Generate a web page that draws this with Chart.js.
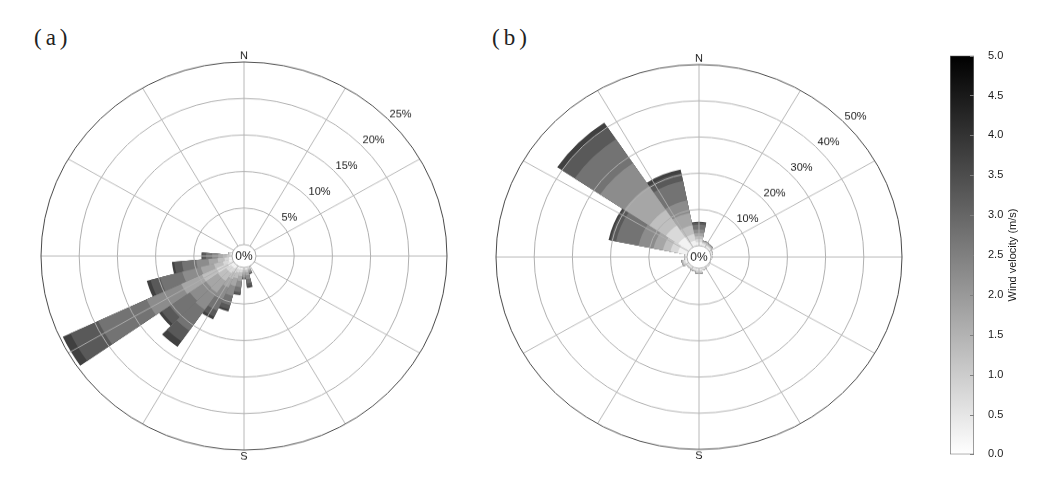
<!DOCTYPE html>
<html><head><meta charset="utf-8">
<script src="https://cdn.jsdelivr.net/npm/chart.js@4.4.1/dist/chart.umd.min.js"></script>
<style>
html,body{margin:0;padding:0;background:#fff;width:1039px;height:481px;overflow:hidden;position:relative;font-family:"Liberation Sans",Arial,sans-serif;}
.rose{position:absolute;width:440px;height:440px;transform-origin:50% 50%;}
#wa{left:24px;top:36px;transform:scaleY(0.956);}
#wb{left:479px;top:37px;transform:scaleY(0.948);}
.panel{position:absolute;font-family:"Liberation Serif","DejaVu Serif",serif;font-size:23px;line-height:1;color:#222;letter-spacing:4px;}
#cbar{position:absolute;left:950px;top:43px;width:86px;height:424px;}
</style></head>
<body>
<div class="panel" style="left:34px;top:26px;">(a)</div>
<div class="panel" style="left:492px;top:26px;">(b)</div>
<div id="wa" class="rose"><canvas id="ca"></canvas></div>
<div id="wb" class="rose"><canvas id="cb"></canvas></div>
<div id="cbar"><canvas id="cc"></canvas></div>
<script>
// ---------- data ----------
// wind-speed classes (m/s) and their mid values
const speedBins = ['0-0.5','0.5-1.0','1.0-1.5','1.5-2.0','2.0-2.5','2.5-3.0','3.0-3.5','3.5-4.0'];
const binMid = [0.25, 0.75, 1.25, 1.75, 2.25, 2.75, 3.25, 3.75];

// (a): 36 directions, 10 degrees apart (frequency %, per speed class)
const dirsA = Array.from({length: 36}, (_, i) => String(i * 10));
const aBin1 = [0,0,0,0,0,0,0,0,0,0,0,0,0,0,0,0, 0.1,0.2,0.2,0.3,0.3,0.4,0.5,0.5,0.8,0.5,0.4,0.3,0.2, 0,0,0,0,0,0,0];
const aBin2 = [0,0,0,0,0,0,0,0,0,0,0,0,0,0,0,0, 0.1,0.2,0.2,0.4,0.5,0.6,0.8,0.8,1.6,0.8,0.6,0.4,0.2, 0,0,0,0,0,0,0];
const aBin3 = [0,0,0,0,0,0,0,0,0,0,0,0,0,0,0,0, 0.2,0.3,0.3,0.5,0.8,0.9,1.3,1.3,2.1,1.2,0.9,0.5,0.1, 0,0,0,0,0,0,0];
const aBin4 = [0,0,0,0,0,0,0,0,0,0,0,0,0,0,0,0, 0.2,0.4,0.3,0.7,1.1,1.3,2.0,1.9,3.0,1.8,1.2,0.6,0, 0,0,0,0,0,0,0];
const aBin5 = [0,0,0,0,0,0,0,0,0,0,0,0,0,0,0,0, 0.2,0.5,0.3,0.8,1.4,1.7,2.8,2.6,5.0,2.5,1.6,0.8,0, 0,0,0,0,0,0,0];
const aBin6 = [0,0,0,0,0,0,0,0,0,0,0,0,0,0,0,0, 0.1,0.6,0.2,0.7,1.3,1.8,3.5,3.2,7.0,3.0,1.9,0.8,0, 0,0,0,0,0,0,0];
const aBin7 = [0,0,0,0,0,0,0,0,0,0,0,0,0,0,0,0, 0.1,0.4,0.1,0.3,0.6,0.9,1.8,1.3,4.0,1.3,1.0,0.5,0, 0,0,0,0,0,0,0];
const aBin8 = [0,0,0,0,0,0,0,0,0,0,0,0,0,0,0,0, 0,0.2,0,0.1,0.3,0.4,0.9,0.4,1.1,0.5,0.3,0.1,0, 0,0,0,0,0,0,0];
const ringsA = [0, 5, 10, 15, 20, 25];

// (b): 16 directions
const dirsB = ['N','NNE','NE','ENE','E','ESE','SE','SSE','S','SSW','SW','WSW','W','WNW','NW','NNW'];
const bBin1 = [1.0,0.5,0.4,0.3,0.2,0.1,0.2,0.3,0.5,0.4,0.3,0.6,0.4,2.5,3.4,1.5];
const bBin2 = [0.8,0.4,0.3,0.2,0.1,0,0.1,0.2,0.5,0.3,0.3,0.5,0.2,2.0,3.9,1.8];
const bBin3 = [0.8,0.3,0.3,0.1,0,0,0,0.1,0.3,0.2,0.2,0.3,0.1,2.0,5.2,2.5];
const bBin4 = [0.9,0.2,0.2,0,0,0,0,0,0.2,0.1,0,0.2,0,2.5,7.9,3.5];
const bBin5 = [1.0,0.1,0.1,0,0,0,0,0,0,0,0,0,0,4.0,7.6,3.5];
const bBin6 = [1.3,0,0,0,0,0,0,0,0,0,0,0,0,6.0,8.0,5.5];
const bBin7 = [0.6,0,0,0,0,0,0,0,0,0,0,0,0,1.5,4.0,2.2];
const bBin8 = [0.2,0,0,0,0,0,0,0,0,0,0,0,0,0.5,1.5,1.0];
const ringsB = [0, 10, 20, 30, 40, 50];

// colour bar
const cbarTicks = [0,0.5,1.0,1.5,2.0,2.5,3.0,3.5,4.0,4.5,5.0];
const cbarMax = 5;

// ---------- helpers ----------
const gray = v => { const g = Math.round(255 * (1 - v / cbarMax)); return `rgb(${g},${g},${g})`; };
function cumulative(series) {
  let run = series[0].map(() => 0);
  return series.map(s => (run = run.map((r, i) => +(r + s[i]).toFixed(3))));
}
const HOLE_PX = 12, AREA_PX = 203;

const rosePlugin = {
  id: 'rose',
  afterDatasetsDraw(chart) {
    const s = chart.scales.r, ctx = chart.ctx;
    const r0 = s.getDistanceFromCenterForValue(0);
    const rM = s.getDistanceFromCenterForValue(s.max);
    ctx.save();
    ctx.fillStyle = '#fff';
    ctx.beginPath(); ctx.arc(s.xCenter, s.yCenter, r0, 0, Math.PI * 2); ctx.fill();
    ctx.strokeStyle = '#b0b0b0'; ctx.lineWidth = 0.9;
    for (let a = 0; a < 360; a += 30) {
      const t = a * Math.PI / 180;
      ctx.beginPath();
      ctx.moveTo(s.xCenter + r0 * Math.sin(t), s.yCenter - r0 * Math.cos(t));
      ctx.lineTo(s.xCenter + rM * Math.sin(t), s.yCenter - rM * Math.cos(t));
      ctx.stroke();
    }
    ctx.restore();
  },
  afterDraw(chart) {
    const s = chart.scales.r, ctx = chart.ctx;
    const rings = chart.options.plugins.rose.rings;
    ctx.save();
    ctx.fillStyle = '#1a1a1a';
    ctx.font = '11px "Liberation Sans", Arial, sans-serif';
    ctx.textAlign = 'left'; ctx.textBaseline = 'bottom';
    const t = Math.PI / 4;
    rings.forEach(v => {
      if (v === 0) return;
      const r = s.getDistanceFromCenterForValue(v);
      ctx.fillText(v + '%', s.xCenter + r * Math.sin(t) + 2, s.yCenter - r * Math.cos(t) + 1);
    });
    const rM = s.getDistanceFromCenterForValue(s.max);
    ctx.textAlign = 'center';
    ctx.fillText('N', s.xCenter, s.yCenter - rM - 1);
    ctx.textBaseline = 'top';
    ctx.fillText('S', s.xCenter, s.yCenter + rM + 1);
    ctx.font = '12px "Liberation Sans", Arial, sans-serif';
    ctx.textBaseline = 'middle';
    ctx.fillText('0%', s.xCenter, s.yCenter + 1);
    ctx.restore();
  }
};

function makeRose(id, labels, series, rings, startAngle) {
  const max = rings[rings.length - 1];
  const min = -max * HOLE_PX / (AREA_PX - HOLE_PX);
  const cum = cumulative(series);
  const datasets = cum.map((d, k) => ({
    label: speedBins[k] + ' m/s', data: d,
    backgroundColor: gray(binMid[k]), borderWidth: 0
  }));
  return new Chart(document.getElementById(id), {
    type: 'polarArea',
    data: { labels, datasets },
    options: {
      responsive: true, maintainAspectRatio: false, animation: false, events: [],
      layout: { padding: 17 },
      plugins: { legend: { display: false }, tooltip: { enabled: false }, rose: { rings } },
      elements: { arc: { borderWidth: 0 } },
      scales: { r: {
        min, max, startAngle,
        ticks: { display: false },
        afterBuildTicks: sc => { sc.ticks = rings.map(v => ({ value: v })); },
        grid: { z: 1, circular: true, lineWidth: 1,
          color: c => (c.tick && c.tick.value === max) ? '#4a4a4a' : '#b0b0b0' },
        angleLines: { display: false },
        pointLabels: { display: false }
      } }
    },
    plugins: [rosePlugin]
  });
}

makeRose('ca', dirsA, [aBin1,aBin2,aBin3,aBin4,aBin5,aBin6,aBin7,aBin8], ringsA, -5);
makeRose('cb', dirsB, [bBin1,bBin2,bBin3,bBin4,bBin5,bBin6,bBin7,bBin8], ringsB, -11.25);

// ---------- colour bar ----------
const cbarPlugin = {
  id: 'cbarExtra',
  afterDatasetsDraw(chart) {
    const y = chart.scales.y, a = chart.chartArea, ctx = chart.ctx;
    ctx.save();
    ctx.strokeStyle = '#808080'; ctx.lineWidth = 1;
    y.ticks.forEach(t => {
      const p = Math.round(y.getPixelForValue(t.value)) + 0.5;
      ctx.beginPath(); ctx.moveTo(a.right - 4, p); ctx.lineTo(a.right, p); ctx.stroke();
    });
    ctx.translate(a.right + 39, (a.top + a.bottom) / 2);
    ctx.rotate(-Math.PI / 2);
    ctx.fillStyle = '#1a1a1a';
    ctx.font = '11px "Liberation Sans", Arial, sans-serif';
    ctx.textAlign = 'center'; ctx.textBaseline = 'middle';
    ctx.fillText('Wind velocity (m/s)', 0, 0);
    ctx.restore();
  }
};
new Chart(document.getElementById('cc'), {
  type: 'bar',
  data: { labels: [''], datasets: [{
    data: [cbarMax],
    backgroundColor: c => {
      const ch = c.chart, y = ch.scales.y;
      if (!ch.chartArea || !y) return '#888';
      const g = ch.ctx.createLinearGradient(0, y.getPixelForValue(0), 0, y.getPixelForValue(cbarMax));
      g.addColorStop(0, gray(0)); g.addColorStop(1, gray(cbarMax));
      return g;
    },
    borderColor: '#6e6e6e', borderWidth: 1, borderSkipped: false,
    barPercentage: 1, categoryPercentage: 1
  }] },
  options: {
    responsive: true, maintainAspectRatio: false, animation: false, events: [],
    layout: { padding: { top: 10, bottom: 10, left: 0, right: 0 } },
    plugins: { legend: { display: false }, tooltip: { enabled: false } },
    scales: {
      x: { display: false },
      y: { position: 'right', min: 0, max: cbarMax,
        afterBuildTicks: sc => { sc.ticks = cbarTicks.map(v => ({ value: v })); },
        afterFit: sc => { sc.width = 62; },
        grid: { display: false }, border: { display: false },
        ticks: { padding: 6, color: '#1a1a1a', font: { size: 11, family: '"Liberation Sans", Arial, sans-serif' },
          callback: v => Number(v).toFixed(1) } }
    }
  },
  plugins: [cbarPlugin]
});
</script>
</body></html>
